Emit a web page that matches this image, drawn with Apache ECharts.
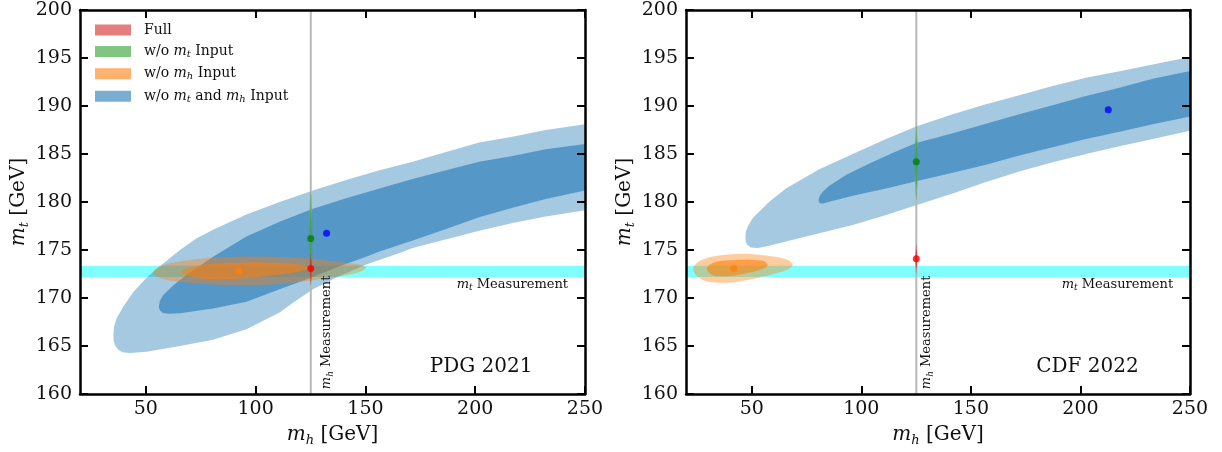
<!DOCTYPE html>
<html><head><meta charset="utf-8">
<script src="https://cdn.jsdelivr.net/npm/echarts@6/dist/echarts.min.js"></script>
<style>html,body{margin:0;padding:0;background:#fff}#c{width:1222px;height:452px}</style>
</head><body><div id="c"></div>
<script>
// ---------- axes ----------
const xRange = [20, 250];
const yRange = [160, 200];
const xTicks = [50, 100, 150, 200, 250];
const yStep = 5;
const mhMeasured = 125.1;
const mtBand = [172.2, 173.35];

// ---------- PDG 2021 panel (left) ----------
const pdgBlueOuter = [[35.2,166.06],[35.5,167.0],[36.7,167.9],[39.7,169.1],[44.2,170.6],[50.3,172.1],[57.9,173.6],[65.5,175.0],[73.0,176.2],[80.6,177.1],[95.8,178.7],[110.9,180.0],[126.1,181.2],[141.2,182.3],[156.4,183.3],[171.5,184.2],[186.7,185.2],[201.8,186.2],[217.0,186.8],[232.1,187.5],[250,188.1],
  [250,179.15],[232.1,178.5],[217.0,177.8],[201.8,177.0],[188.2,176.2],[171.5,175.2],[165.5,174.7],[150.3,173.5],[138.2,172.3],[126.1,170.9],[117.0,169.5],[110.9,168.5],[95.8,166.75],[80.6,165.65],[65.5,165.0],[50.3,164.4],[42.7,164.27],[39.5,164.35],[37.4,164.6],[35.9,165.1],[35.3,165.6]];
const pdgBlueInner = [[55.9,169.06],[56.3,169.65],[57.9,170.3],[62.4,171.3],[68.5,172.4],[80.6,174.3],[95.8,176.4],[110.9,177.95],[126.1,179.3],[141.2,180.4],[156.4,181.4],[171.5,182.4],[186.7,183.3],[201.8,184.2],[217.0,184.8],[232.1,185.5],[250,186.05],
  [250,181.2],[232.1,180.3],[217.0,179.4],[201.8,178.4],[186.7,177.2],[171.5,176.0],[156.4,174.85],[150.3,174.3],[138.2,173.3],[126.1,172.2],[110.9,170.9],[95.8,169.6],[80.6,168.9],[65.5,168.4],[60.5,168.35],[57.8,168.45],[56.4,168.7]];
const pdgOrangeOuter = [[53.0,172.61],[56.4,173.3],[65.5,173.82],[80.6,174.23],[95.8,174.33],[110.9,174.3],[126.1,174.09],[138.2,173.75],[147.3,173.47],[150.3,173.19],[147.3,172.71],[138.2,172.26],[126.1,171.85],[110.9,171.47],[95.8,171.33],[80.6,171.4],[65.5,171.68],[56.4,172.09]];
const pdgOrangeInner = [[66.2,172.68],[70.0,173.19],[80.6,173.57],[95.8,173.71],[110.9,173.64],[120.0,173.47],[124.5,173.23],[121.5,172.85],[110.9,172.44],[95.8,172.09],[80.6,171.95],[71.5,172.16]];
const pdgGreenOuter = [[125.1,181.15],[125.5,180.0],[125.75,178.0],[125.8,176.2],[125.75,174.4],[125.5,172.4],[125.1,171.25],[124.7,172.4],[124.45,174.4],[124.4,176.2],[124.45,178.0],[124.7,180.0]];
const pdgGreenInner = [[125.1,179.3],[125.45,178.0],[125.6,176.2],[125.45,174.4],[125.1,173.1],[124.75,174.4],[124.6,176.2],[124.75,178.0]];
const pdgRedOuter = [[125.1,174.7],[125.45,174.0],[125.6,173.06],[125.45,172.1],[125.1,171.4],[124.75,172.1],[124.6,173.06],[124.75,174.0]];
const pdgRedInner = [[125.1,174.1],[125.4,173.6],[125.5,173.06],[125.4,172.5],[125.1,172.0],[124.8,172.5],[124.7,173.06],[124.8,173.6]];
const pdgBest = { full:[125.1,173.06], woMt:[125.1,176.2], woMh:[92.3,172.8], woBoth:[132.3,176.75] };

// ---------- CDF 2022 panel (right) ----------
const cdfBlueOuter = [[47.1,176.23],[47.3,176.9],[48.3,177.5],[50.4,178.3],[58.0,180.02],[65.6,181.4],[80.8,183.4],[96.1,185.01],[111.3,186.56],[125.0,187.87],[141.7,189.15],[156.9,190.18],[172.1,191.11],[187.3,192.08],[202.5,192.94],[217.8,193.63],[233.0,194.32],[250,195.11],
  [250,187.43],[233.0,186.56],[217.8,185.81],[202.5,185.01],[187.3,184.15],[172.1,183.19],[156.9,182.09],[141.7,180.88],[125.0,179.67],[111.3,178.64],[96.1,177.61],[80.8,176.75],[65.6,175.88],[56.5,175.37],[52.5,175.2],[49.6,175.25],[47.9,175.55],[47.25,175.85]];
const cdfBlueInner = [[80.5,180.12],[80.9,180.6],[82.5,181.1],[85.4,181.7],[93.0,182.8],[103.7,184.0],[114.3,185.1],[125.0,186.15],[141.7,187.15],[156.9,188.15],[172.1,189.15],[187.3,190.08],[202.5,191.04],[217.8,191.9],[233.0,192.83],[250,193.65],
  [250,188.9],[233.0,188.11],[217.8,187.32],[202.5,186.56],[187.3,185.7],[172.1,184.84],[156.9,183.88],[141.7,183.05],[125.0,182.15],[111.3,181.4],[96.1,180.64],[85.4,180.02],[82.6,179.85],[81.0,179.88]];
const cdfOrangeOuter = [[23.3,173.13],[26.1,173.82],[32.2,174.33],[41.3,174.57],[50.4,174.57],[59.6,174.33],[66.4,173.99],[68.7,173.47],[66.4,172.96],[58.0,172.37],[47.4,171.85],[38.3,171.58],[29.1,171.75],[24.6,172.37]];
const cdfOrangeInner = [[29.4,173.06],[32.2,173.65],[39.8,173.92],[48.9,173.99],[55.7,173.82],[57.3,173.4],[54.2,172.96],[45.9,172.51],[38.3,172.27],[32.2,172.37]];
const cdfGreenOuter = [[125.1,188.1],[125.5,187.0],[125.75,185.5],[125.8,184.2],[125.75,182.9],[125.5,181.3],[125.1,180.2],[124.7,181.3],[124.45,182.9],[124.4,184.2],[124.45,185.5],[124.7,187.0]];
const cdfGreenInner = [[125.1,186.6],[125.45,185.6],[125.6,184.2],[125.45,182.8],[125.1,181.7],[124.75,182.8],[124.6,184.2],[124.75,185.6]];
const cdfRedOuter = [[125.1,175.7],[125.4,175.0],[125.6,174.1],[125.4,173.2],[125.1,172.5],[124.8,173.2],[124.6,174.1],[124.8,175.0]];
const cdfRedInner = [[125.1,175.1],[125.35,174.6],[125.5,174.1],[125.35,173.6],[125.1,173.1],[124.85,173.6],[124.7,174.1],[124.85,174.6]];
const cdfBest = { full:[125.1,174.09], woMt:[125.1,184.19], woMh:[41.75,173.06], woBoth:[212.7,189.6] };

// ---------- text ----------
const panelTitles = ['PDG 2021', 'CDF 2022'];
const titlePos = [[202.7,162.8],[203.2,162.8]];
const mtTextPos = [[242.3,171.4],[242.3,171.4]];
const mhTextPos = [[132.5,160.5],[130.0,160.5]];
const legendNames = ['Full', 'w/o mt Input', 'w/o mh Input', 'w/o mt and mh Input'];
const legendRich = {
  'Full': '{n|Full}',
  'w/o mt Input': '{n|w/o }{i|m}{s|t}{n| Input}',
  'w/o mh Input': '{n|w/o }{i|m}{s|h}{n| Input}',
  'w/o mt and mh Input': '{n|w/o }{i|m}{s|t}{n| and }{i|m}{s|h}{n| Input}'
};

// ---------- styling ----------
const FONT = 'DejaVu Serif';
const C = {
  blue1: 'rgba(31,119,180,0.4)', blue2: 'rgba(31,119,180,0.6)',
  orange1: 'rgba(255,127,14,0.4)', orange2: 'rgba(255,127,14,0.6)',
  green1: 'rgba(44,160,44,0.45)', green2: 'rgba(44,160,44,0.65)',
  red1: 'rgba(214,39,40,0.45)', red2: 'rgba(214,39,40,0.7)',
  band: 'rgba(0,255,255,0.5)'
};
function richSet(size, sub, lh) {
  return {
    n: {fontFamily: FONT, fontSize: size, lineHeight: lh, color: '#111'},
    i: {fontFamily: FONT, fontStyle: 'italic', fontSize: size, lineHeight: lh, color: '#111'},
    s: {fontFamily: FONT, fontStyle: 'italic', fontSize: sub, lineHeight: sub, verticalAlign: 'bottom', color: '#111'}
  };
}

function poly(name, pts, color, ax, z, smooth) {
  return {
    type: 'custom', name: name, xAxisIndex: ax, yAxisIndex: ax, data: pts, silent: true, clip: true,
    z: z, itemStyle: {color: color}, animation: false,
    renderItem: function (params, api) {
      if (params.dataIndex !== 0) return null;
      const p = pts.map(function (d) { return api.coord(d); });
      return {type: 'polygon', shape: {points: p, smooth: smooth || 0}, style: {fill: color}};
    }
  };
}
function textSeries(pos, fmt, ax, opts) {
  return {
    type: 'scatter', xAxisIndex: ax, yAxisIndex: ax, data: [pos], symbolSize: 0, silent: true, z: 8,
    itemStyle: {color: '#111'},
    label: Object.assign({show: true, position: 'inside', formatter: fmt, color: '#111', opacity: 1}, opts)
  };
}
function point(pos, color, ax, name) {
  return {type: 'scatter', name: name, xAxisIndex: ax, yAxisIndex: ax, data: [pos], symbol: 'circle', symbolSize: 7,
    itemStyle: {color: color}, silent: true, z: 7};
}

const panels = [
  {ax: 0, blue: [pdgBlueOuter, pdgBlueInner], orange: [pdgOrangeOuter, pdgOrangeInner], green: [pdgGreenOuter, pdgGreenInner], red: [pdgRedOuter, pdgRedInner], best: pdgBest},
  {ax: 2, blue: [cdfBlueOuter, cdfBlueInner], orange: [cdfOrangeOuter, cdfOrangeInner], green: [cdfGreenOuter, cdfGreenInner], red: [cdfRedOuter, cdfRedInner], best: cdfBest}
];

const series = [];
panels.forEach(function (P, k) {
  const ax = P.ax;
  series.push(poly('band', [[xRange[0], mtBand[0]], [xRange[1], mtBand[0]], [xRange[1], mtBand[1]], [xRange[0], mtBand[1]]], C.band, ax, 1, 0));
  series.push(poly(legendNames[3], P.blue[0], C.blue1, ax, 2, 0));
  series.push(poly(legendNames[3], P.blue[1], C.blue2, ax, 2, 0));
  series.push({type: 'line', xAxisIndex: ax, yAxisIndex: ax, data: [[mhMeasured, yRange[0]], [mhMeasured, yRange[1]]],
    showSymbol: false, symbol: 'none', silent: true, z: 3, lineStyle: {color: '#b8b8b8', width: 2}, animation: false});
  series.push(poly(legendNames[2], P.orange[0], C.orange1, ax, 4, 0.3));
  series.push(poly(legendNames[2], P.orange[1], C.orange2, ax, 4, 0.3));
  series.push(poly(legendNames[1], P.green[0], C.green1, ax, 5, 0.3));
  series.push(poly(legendNames[1], P.green[1], C.green2, ax, 5, 0.3));
  series.push(poly(legendNames[0], P.red[0], C.red1, ax, 6, 0.3));
  series.push(poly(legendNames[0], P.red[1], C.red2, ax, 6, 0.3));
  series.push(point(P.best.woMh, '#ff7f0e', ax));
  series.push(point(P.best.woBoth, '#0000ff', ax));
  series.push(point(P.best.woMt, '#008000', ax));
  series.push(point(P.best.full, '#ff0000', ax));
  series.push(textSeries(titlePos[k], panelTitles[k], ax, {fontFamily: FONT, fontSize: 20}));
  series.push(textSeries(mtTextPos[k], '{i|m}{s|t}{n| Measurement}', ax, {align: 'right', verticalAlign: 'middle', rich: richSet(13, 9, 16)}));
  series.push(textSeries(mhTextPos[k], '{i|m}{s|h}{n| Measurement}', ax, {align: 'left', verticalAlign: 'middle', rotate: 90, rich: richSet(13, 9, 16)}));
});

const grids = [
  {left: 80, top: 10, width: 505, height: 387},
  {left: 686, top: 10, width: 504, height: 387}
];
const axLine = {show: true, onZero: false, lineStyle: {color: '#000', width: 2.5}};
const tickStyle = {lineStyle: {color: '#000', width: 2}};
const xAxes = [], yAxes = [];
[0, 1].forEach(function (g) {
  xAxes.push({type: 'value', gridIndex: g, position: 'bottom', min: xRange[0], max: xRange[1], z: 10,
    axisLine: axLine, splitLine: {show: false},
    axisTick: Object.assign({show: true, inside: true, length: 8, customValues: xTicks}, tickStyle),
    axisLabel: {show: true, customValues: xTicks, fontFamily: FONT, fontSize: 19, color: '#111', margin: 6},
    name: '{i|m}{s|h}{n| [GeV]}', nameLocation: 'middle', nameGap: 29,
    nameTextStyle: {rich: richSet(20, 13, 24)}});
  xAxes.push({type: 'value', gridIndex: g, position: 'top', min: xRange[0], max: xRange[1], z: 10,
    axisLine: axLine, splitLine: {show: false},
    axisTick: Object.assign({show: true, inside: true, length: 8, customValues: xTicks}, tickStyle),
    axisLabel: {show: false}});
  yAxes.push({type: 'value', gridIndex: g, position: 'left', min: yRange[0], max: yRange[1], interval: yStep, z: 10,
    axisLine: axLine, splitLine: {show: false},
    axisTick: Object.assign({show: true, inside: true, length: 8}, tickStyle),
    axisLabel: {show: true, fontFamily: FONT, fontSize: 19, color: '#111', margin: 8},
    name: '{i|m}{s|t}{n| [GeV]}', nameLocation: 'middle', nameRotate: 90, nameGap: 49,
    nameTextStyle: {rich: richSet(20, 13, 24)}});
  yAxes.push({type: 'value', gridIndex: g, position: 'right', min: yRange[0], max: yRange[1], interval: yStep, z: 10,
    axisLine: axLine, splitLine: {show: false},
    axisTick: Object.assign({show: true, inside: true, length: 8}, tickStyle),
    axisLabel: {show: false}});
});

const chart = echarts.init(document.getElementById('c'), null, {renderer: 'canvas'});
chart.setOption({
  animation: false,
  backgroundColor: '#fff',
  grid: grids,
  xAxis: xAxes,
  yAxis: yAxes,
  legend: {
    orient: 'vertical', left: 95, top: 23, padding: 0, itemWidth: 36, itemHeight: 11, itemGap: 7.4, icon: 'rect',
    selectedMode: false,
    data: [
      {name: legendNames[0], itemStyle: {color: 'rgba(214,39,40,0.6)', borderWidth: 0}},
      {name: legendNames[1], itemStyle: {color: 'rgba(44,160,44,0.6)', borderWidth: 0}},
      {name: legendNames[2], itemStyle: {color: 'rgba(255,127,14,0.6)', borderWidth: 0}},
      {name: legendNames[3], itemStyle: {color: 'rgba(31,119,180,0.6)', borderWidth: 0}}
    ],
    formatter: function (n) { return legendRich[n]; },
    textStyle: {padding: [0, 0, 0, 8], rich: richSet(14, 10, 16)}
  },
  series: series
});
</script></body></html>
